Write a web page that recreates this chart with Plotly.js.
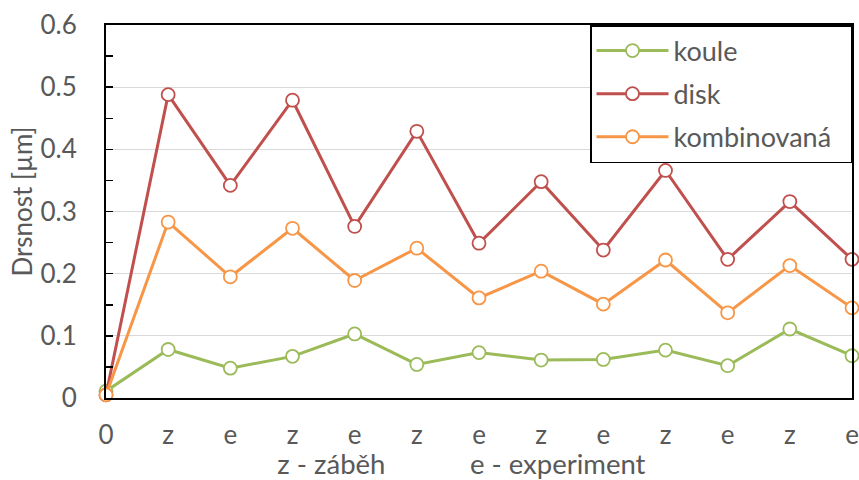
<!DOCTYPE html>
<html>
<head>
<meta charset="utf-8">
<script src="https://cdn.plot.ly/plotly-3.0.1.min.js"></script>
<style>html,body{margin:0;padding:0;background:#fff;}#chart{width:859px;height:480px;}</style>
</head>
<body>
<div id="chart"></div>
<script>
const tickLabels = ['0','z','e','z','e','z','e','z','e','z','e','z','e'];
const koule = [0.011,0.078,0.048,0.067,0.103,0.054,0.073,0.061,0.062,0.077,0.052,0.111,0.068];
const disk = [0.005,0.488,0.342,0.479,0.276,0.429,0.249,0.348,0.238,0.366,0.223,0.316,0.223];
const kombinovana = [0.005,0.283,0.195,0.273,0.189,0.241,0.161,0.204,0.151,0.222,0.137,0.213,0.145];
const seriesNames = ['koule','disk','kombinovaná'];
const seriesColors = ['#9BBB59','#C0504D','#F79646'];
const yTickVals = [0,0.1,0.2,0.3,0.4,0.5,0.6];
const yTickLabels = ['0','0.1','0.2','0.3','0.4','0.5','0.6'];
const xIdx = tickLabels.map((_, i) => i);

const FONT = 'Lato, "Open Sans", sans-serif';
const GREY = '#595959';
const NB = '\u00A0';
const ZW = '\u200B';

const traces = [koule, disk, kombinovana].map((vals, k) => ({
  x: xIdx,
  y: vals,
  name: seriesNames[k] + NB.repeat(2) + ZW,
  legendgroup: 'g' + k,
  type: 'scatter',
  mode: 'lines+markers',
  cliponaxis: false,
  line: {color: seriesColors[k], width: 3},
  marker: {symbol: 'circle', size: 13, color: '#ffffff', line: {color: seriesColors[k], width: 1.8}}
}));

const layout = {
  width: 859, height: 480,
  margin: {l: 106, r: 7, t: 25, b: 82},
  paper_bgcolor: '#ffffff', plot_bgcolor: '#ffffff',
  font: {family: FONT, color: GREY, size: 27},
  showlegend: true,
  legend: {
    x: 1, xanchor: 'right', y: 1, yanchor: 'top',
    bgcolor: '#ffffff', bordercolor: '#000000', borderwidth: 1.5,
    font: {family: FONT, size: 27, color: GREY},
    traceorder: 'grouped', tracegroupgap: 5,
    itemwidth: 72
  },
  xaxis: {
    range: [0, 12],
    tickvals: xIdx,
    ticktext: tickLabels,
    showgrid: false,
    zeroline: false,
    showline: true, linecolor: '#000000', linewidth: 2, mirror: true,
    ticks: '', ticklabelstandoff: 13,
    tickfont: {family: FONT, size: 26, color: GREY},
    title: {text: 'z - záběh' + NB.repeat(12) + 'e - experiment' + NB.repeat(5) + ZW, font: {family: FONT, size: 27.5, color: GREY}, standoff: 0}
  },
  yaxis: {
    range: [0, 0.6],
    tickvals: yTickVals,
    ticktext: yTickLabels,
    showgrid: true, gridcolor: '#D9D9D9', gridwidth: 1.3,
    zeroline: false,
    showline: true, linecolor: '#000000', linewidth: 2, mirror: true,
    ticks: 'inside', ticklen: 7, tickcolor: '#000000', tickwidth: 1.5,
    minor: {dtick: 0.05, ticks: 'inside', ticklen: 7, tickcolor: '#000000', tickwidth: 1.5, showgrid: false},
    ticklabelstandoff: 22,
    tickfont: {family: FONT, size: 26, color: GREY},
    title: {text: ZW + NB.repeat(3) + 'Drsnost [µm]', font: {family: FONT, size: 26, color: GREY}, standoff: 0}
  }
};

Plotly.newPlot('chart', traces, layout, {displayModeBar: false, staticPlot: true});
</script>
</body>
</html>
